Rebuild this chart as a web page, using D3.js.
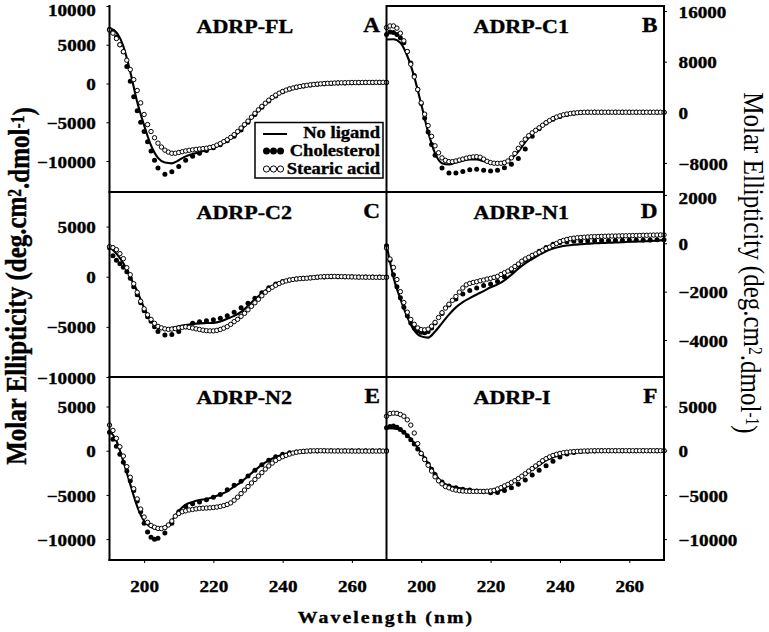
<!DOCTYPE html>
<html><head><meta charset="utf-8">
<script src="https://cdn.jsdelivr.net/npm/d3@7"></script>
<style>body{margin:0;background:#fff}svg{display:block}text{font-family:"Liberation Serif","Times New Roman",serif;fill:#000}</style>
</head><body><svg id="c" width="769" height="632"></svg>
<script>
// ---------------- DATA ----------------
const wlLine = d3.range(190, 271, 2);                       // solid line grid
const wlChol = d3.range(190, 205, 1).concat(d3.range(206, 271, 2)); // filled dots grid
const wlStearic = d3.range(190, 271, 1);                    // open circles grid
const seriesNames = ["No ligand", "Cholesterol", "Stearic acid"];
const panelTitles = ["ADRP-FL", "ADRP-C1", "ADRP-C2", "ADRP-N1", "ADRP-N2", "ADRP-I"];
const panelLetters = ["A", "B", "C", "D", "E", "F"];
const xTicks = [200, 220, 240, 260];
const ticksA = [10000, 5000, 0, -5000, -10000];
const ticksB = [16000, 8000, 0, -8000];
const ticksC = [5000, 0, -5000, -10000];
const ticksD = [2000, 0, -2000, -4000];
const ticksE = [5000, 0, -5000, -10000];
const ticksF = [5000, 0, -5000, -10000];

const A_line = [7150,6600,4800,1500,-2400,-5400,-8000,-9600,-10200,-10300,
 -9900,-9400,-9100,-8850,-8600,-8300,-7900,-7400,-6800,-6000,
 -5000,-4000,-3050,-2250,-1600,-1060,-700,-480,-330,-220,
 -130,-60,-10,30,60,80,90,100,100,110,110];
const A_chol = [7000,6700,6000,5000,4100,2200,300,-1700,-3500,-5000,-6200,-7500,-8700,-9900,-10900,
 -11700,-11400,-10700,-9900,-9400,-9000,-8650,-8300,-7900,-7400,
 -6800,-6000,-5000,-4000,-3050,-2250,-1600,-1060,-700,-480,
 -330,-200,-100,-30,10,50,80,100,110,120,130,130,140];
const A_stearic = [6900,6500,5800,5000,4100,3000,1800,500,-900,-2500,
 -4000,-5300,-6200,-7000,-7700,-8200,-8600,-8850,-9000,-9000,
 -8900,-8800,-8700,-8620,-8560,-8500,-8450,-8400,-8350,-8250,
 -8150,-7950,-7750,-7500,-7250,-6950,-6600,-6200,-5750,-5300,
 -4850,-4350,-3850,-3400,-2950,-2550,-2150,-1800,-1500,-1250,
 -1020,-850,-700,-580,-470,-380,-300,-230,-170,-120,
 -80,-40,-10,20,40,60,80,90,100,110,
 120,120,130,130,140,140,140,150,150,150,150];

const B_line = [11500,11550,11000,8900,5600,1300,-3100,-6500,-8050,-8250,
 -7950,-7650,-7450,-7450,-7750,-8000,-8050,-7900,-7300,-6200,
 -4700,-3400,-2400,-1650,-1100,-700,-400,-200,-80,0,
 0,0,0,0,0,0,0,0,0,0,0];
const B_chol = [12300,12700,12600,12300,11800,11000,9600,7800,5800,3600,1400,-900,-3100,-5100,-6800,
 -8800,-9600,-9600,-9350,-9100,-9000,-9150,-9300,-9150,-8750,
 -8200,-7300,-5800,-3800,-2600,-1700,-1100,-650,-350,-150,
 -50,0,0,0,0,0,0,0,0,0,0,0,0];
const B_stearic = [13400,13650,13650,13300,12500,11300,9600,7600,5600,3600,
 1500,-300,-2100,-3800,-5300,-6400,-7200,-7600,-7800,-7800,
 -7700,-7550,-7400,-7250,-7120,-7050,-7020,-7100,-7400,-7750,
 -7950,-8050,-8070,-8060,-7950,-7700,-7200,-6500,-5700,-4900,
 -4250,-3700,-3250,-2850,-2450,-2050,-1650,-1300,-1000,-760,
 -560,-400,-280,-190,-120,-70,-30,0,10,10,
 10,10,10,10,10,10,10,10,10,10,10,
 10,10,10,10,10,10,10,10,10,10];

const C_line = [3000,2300,1350,-50,-1450,-3100,-4400,-5050,-5250,-5100,
 -4950,-4820,-4720,-4650,-4620,-4600,-4470,-4200,-3900,-3500,
 -2900,-2250,-1650,-1150,-780,-520,-360,-250,-170,-110,
 -70,-40,-20,-10,-10,-20,-20,-30,-30,-30,-30];
const C_chol = [2900,2100,1650,1300,950,500,-150,-1000,-1800,-2600,-3400,-4000,-4450,-5000,-5450,
 -5800,-5750,-5450,-5000,-4650,-4480,-4400,-4300,-4150,-3900,
 -3550,-3100,-2650,-2150,-1600,-1100,-720,-480,-330,-230,
 -160,-100,-60,-30,-10,0,-10,-10,-20,-20,-20,-30,-30];
const C_stearic = [3000,2900,2700,2300,1800,900,200,-700,-1550,-2450,
 -3200,-3800,-4250,-4650,-4950,-5100,-5200,-5250,-5220,-5170,
 -5100,-5050,-5000,-5050,-5120,-5200,-5260,-5330,-5380,-5400,
 -5400,-5350,-5260,-5130,-4980,-4750,-4480,-4250,-3950,-3650,
 -3300,-2950,-2600,-2250,-1900,-1550,-1280,-1050,-850,-680,
 -530,-420,-330,-270,-220,-190,-170,-150,-120,-80,
 -40,-10,10,20,30,30,20,10,0,-10,-20,
 -30,-40,-40,-50,-50,-50,-60,-60,-60,-60];

const D_line = [-50,-1400,-2300,-3050,-3600,-3850,-3900,-3650,-3300,-2950,
 -2650,-2430,-2270,-2120,-1980,-1820,-1700,-1530,-1300,-1050,
 -830,-650,-480,-330,-220,-140,-90,-60,-40,-20,
 0,10,20,30,40,60,70,80,90,110,130];
const D_chol = [-100,-700,-1300,-1800,-2250,-2650,-3000,-3300,-3500,-3620,-3680,-3700,-3650,-3500,-3300,
 -2900,-2550,-2300,-2100,-1950,-1850,-1750,-1680,-1580,-1400,
 -1150,-900,-700,-520,-330,-170,-40,30,60,80,
 90,100,100,110,110,120,120,130,130,140,140,150,150];
const D_stearic = [-200,-650,-1000,-1500,-2000,-2450,-2850,-3150,-3350,-3500,
 -3570,-3580,-3550,-3430,-3270,-3070,-2870,-2680,-2520,-2360,
 -2200,-2020,-1850,-1720,-1660,-1620,-1590,-1550,-1520,-1480,
 -1450,-1410,-1370,-1290,-1220,-1150,-1060,-960,-860,-740,
 -650,-580,-500,-440,-370,-290,-220,-160,-90,-10,
 70,120,160,190,210,230,240,250,260,270,
 275,280,285,290,295,300,300,305,310,310,315,
 320,320,325,330,330,335,340,340,345,350];

const E_line = [2300,1100,-1200,-3800,-6300,-7950,-8650,-8900,-8750,-7900,
 -6800,-6100,-5800,-5580,-5450,-5230,-4950,-4600,-4050,-3550,
 -2880,-2220,-1600,-1100,-700,-420,-260,-160,-100,-60,
 -30,-20,-10,-10,-10,-10,-10,-10,-10,-10,-10];
const E_chol = [2100,1300,500,-400,-1300,-2300,-3400,-4500,-5700,-6900,-8200,-9200,-9800,-10000,-9900,
 -9300,-8200,-6900,-6300,-6000,-5800,-5550,-5250,-4950,-4400,
 -3900,-3450,-2850,-2200,-1580,-1080,-680,-400,-240,-140,
 -80,-40,-20,-10,0,0,0,0,0,0,0,0,0];
const E_stearic = [2900,2300,1400,450,-600,-1800,-3000,-4300,-5450,-6600,
 -7500,-8100,-8450,-8650,-8780,-8800,-8700,-8400,-7950,-7400,
 -7100,-6900,-6800,-6700,-6640,-6580,-6520,-6500,-6480,-6460,
 -6420,-6370,-6300,-6200,-6080,-5900,-5600,-5250,-4850,-4450,
 -4050,-3650,-3250,-2870,-2480,-2080,-1720,-1400,-1100,-870,
 -680,-520,-380,-260,-170,-110,-70,-40,-20,-10,
 0,0,-10,-20,-20,-30,-30,-30,-30,-30,-40,
 -40,-40,-40,-40,-40,-40,-40,-40,-40,-40];

const F_line = [2550,2520,2350,1750,850,-250,-1450,-2650,-3550,-3950,
 -4150,-4300,-4420,-4520,-4620,-4700,-4600,-4250,-3700,-3200,
 -2650,-2150,-1620,-1100,-750,-480,-280,-150,-80,-40,
 -20,-10,0,0,0,0,0,0,0,0,0];
const F_chol = [2600,2750,2800,2650,2400,2100,1700,1250,750,200,-350,-900,-1500,-2100,-2700,
 -3550,-4000,-4200,-4350,-4450,-4550,-4650,-4750,-4720,-4500,
 -4200,-3800,-3300,-2750,-2200,-1700,-1200,-700,-380,-200,
 -100,-50,-20,0,0,0,0,0,0,0,0,0,0];
const F_stearic = [3900,4200,4250,4230,4100,3900,3500,2900,2000,800,
 -300,-1000,-1650,-2300,-2950,-3400,-3750,-4050,-4200,-4350,
 -4450,-4520,-4560,-4580,-4600,-4600,-4600,-4600,-4600,-4580,
 -4540,-4480,-4330,-4180,-3980,-3800,-3600,-3400,-3150,-2880,
 -2600,-2300,-2020,-1720,-1430,-1130,-900,-700,-530,-400,
 -300,-220,-170,-130,-100,-70,-50,-30,-20,-10,
 0,0,0,0,0,0,0,0,0,0,0,
 0,0,0,0,0,0,0,0,0,0];

// ---------------- LAYOUT ----------------
const SX = 1.16; // horizontal glyph stretch of the reference
const colX = [[109.5, 386.5], [386.5, 664]];
const rowY = [[6, 192], [192, 377], [377, 560]];
const panels = [
  {c:0, r:0, dom:[-14000, 10000], ticks:ticksA, line:A_line, chol:A_chol, st:A_stearic},
  {c:1, r:0, dom:[-12600, 16800], ticks:ticksB, line:B_line, chol:B_chol, st:B_stearic},
  {c:0, r:1, dom:[-10000, 8450],  ticks:ticksC, line:C_line, chol:C_chol, st:C_stearic},
  {c:1, r:1, dom:[-5530, 2120],   ticks:ticksD, line:D_line, chol:D_chol, st:D_stearic},
  {c:0, r:2, dom:[-12360, 8340],  ticks:ticksE, line:E_line, chol:E_chol, st:E_stearic},
  {c:1, r:2, dom:[-12360, 8340],  ticks:ticksF, line:F_line, chol:F_chol, st:F_stearic}
];
const FONT = '"Liberation Serif","Times New Roman",serif';

const svg = d3.select('#c');
svg.append('rect').attr('width', 769).attr('height', 632).attr('fill', '#fff');

function T(x, y, s, size, anchor, weight) {
  return svg.append('text')
    .attr('transform', `translate(${x},${y}) scale(${SX},1)`)
    .attr('font-size', size).attr('text-anchor', anchor || 'start')
    .attr('font-weight', weight || 'bold')
    .attr('stroke', '#000').attr('stroke-width', 0.35)
    .text(s);
}

panels.forEach((p, i) => {
  const [x0, x1] = colX[p.c];
  const [y0, y1] = rowY[p.r];
  const x = d3.scaleLinear().domain([190, 270]).range([x0, x1]);
  const y = d3.scaleLinear().domain(p.dom).range([y1, y0]);
  const g = svg.append('g');

  // y axis
  const ax = p.c === 0 ? d3.axisLeft(y) : d3.axisRight(y);
  const ag = g.append('g')
    .attr('transform', `translate(${p.c === 0 ? x0 : x1},0)`)
    .call(ax.tickValues(p.ticks).tickSize(3).tickFormat(d3.format('d')));
  ag.select('.domain').remove();
  ag.selectAll('line').attr('stroke', '#000').attr('stroke-width', 1);
  ag.selectAll('text')
    .attr('font-family', FONT)
    .attr('font-size', 16.5).attr('font-weight', 'bold').attr('fill', '#000')
    .attr('stroke', '#000').attr('stroke-width', 0.35)
    .attr('x', p.c === 0 ? -11.8 : 12.6)
    .attr('dy', d => (y(d) - y0 < 5 ? '0.55em' : '0.37em'))
    .attr('text-anchor', p.c === 0 ? 'end' : 'start')
    .attr('transform', `scale(${SX},1)`);

  // x axis on bottom row
  if (p.r === 2) {
    const bg = g.append('g').attr('transform', `translate(0,${y1})`)
      .call(d3.axisBottom(x).tickValues(xTicks).tickSize(3).tickPadding(17).tickFormat(d3.format('d')));
    bg.select('.domain').remove();
    bg.selectAll('line').attr('stroke', '#000').attr('stroke-width', 1);
    bg.selectAll('text')
      .attr('font-family', FONT)
      .attr('font-size', 16.5).attr('font-weight', 'bold').attr('fill', '#000')
      .attr('stroke', '#000').attr('stroke-width', 0.35)
      .attr('transform', `scale(${SX},1)`)
      .attr('x', 0);
  }

  // data: line
  const lineGen = d3.line().x((d, j) => x(wlLine[j])).y(d => y(d)).curve(d3.curveMonotoneX);
  g.append('path').datum(p.line).attr('d', lineGen)
    .attr('fill', 'none').attr('stroke', '#000').attr('stroke-width', 2.1);
  // cholesterol filled dots
  g.selectAll('circle.ch').data(p.chol).join('circle').attr('class', 'ch')
    .attr('cx', (d, j) => x(wlChol[j])).attr('cy', d => y(d)).attr('r', 2.5).attr('fill', '#000');
  // stearic acid open circles
  g.selectAll('circle.st').data(p.st).join('circle').attr('class', 'st')
    .attr('cx', (d, j) => x(wlStearic[j])).attr('cy', d => y(d)).attr('r', 2.2)
    .attr('fill', '#fff').attr('stroke', '#000').attr('stroke-width', 1);

  // titles and letters
  T(x0 + 87, y0 + 27, panelTitles[i], 19, 'start');
  T(x1 - 6.5, y0 + 26, panelLetters[i], 20, 'end');
});

// frame lines
const frame = svg.append('g').attr('stroke', '#000').attr('stroke-width', 2).attr('fill', 'none');
frame.append('line').attr('x1', 109.5).attr('x2', 109.5).attr('y1', 5).attr('y2', 561);
frame.append('line').attr('x1', 386.5).attr('x2', 386.5).attr('y1', 5).attr('y2', 561);
frame.append('line').attr('x1', 664).attr('x2', 664).attr('y1', 5).attr('y2', 561);
frame.append('line').attr('x1', 386.5).attr('x2', 665).attr('y1', 6).attr('y2', 6);
[192, 377, 560].forEach(yy => frame.append('line').attr('x1', 108.5).attr('x2', 665).attr('y1', yy).attr('y2', yy));

// legend (panel A)
const lg = svg.append('g');
lg.append('rect').attr('x', 255).attr('y', 122.5).attr('width', 128).attr('height', 55.5)
  .attr('fill', '#fff').attr('stroke', '#000').attr('stroke-width', 1.5);
lg.append('line').attr('x1', 263).attr('x2', 287).attr('y1', 134).attr('y2', 134)
  .attr('stroke', '#000').attr('stroke-width', 2);
[266.5, 273.5, 280.5].forEach(cx => {
  lg.append('circle').attr('cx', cx).attr('cy', 151).attr('r', 3.5).attr('fill', '#000');
  lg.append('circle').attr('cx', cx).attr('cy', 169).attr('r', 3.1).attr('fill', '#fff')
    .attr('stroke', '#000').attr('stroke-width', 1);
});
T(380, 138, seriesNames[0], 16, 'end');
T(380, 156, seriesNames[1], 16, 'end');
T(380, 174, seriesNames[2], 16, 'end');

// axis titles
function axisTitle(tx, ty, rot, size, weight) {
  const t = svg.append('text')
    .attr('transform', `translate(${tx},${ty}) scale(${SX},1) rotate(${rot})`)
    .attr('font-size', size).attr('font-weight', weight).attr('text-anchor', 'middle');
  if (weight === 'bold') t.attr('stroke', '#000').attr('stroke-width', 0.35);
  t.append('tspan').text('Molar Ellipticity (deg.cm');
  t.append('tspan').attr('dy', '-0.3em').attr('font-size', size * 0.62).text('2');
  t.append('tspan').attr('dy', '0.3em').text('.dmol');
  t.append('tspan').attr('dy', '-0.3em').attr('font-size', size * 0.62).text('-1');
  t.append('tspan').attr('dy', '0.3em').text(')');
  return t;
}
axisTitle(26, 286, -90, 25, 'bold');
axisTitle(744, 263, 90, 25, 'normal');

T(386, 623, 'Wavelength (nm)', 17, 'middle').attr('letter-spacing', 1.8);
</script></body></html>
